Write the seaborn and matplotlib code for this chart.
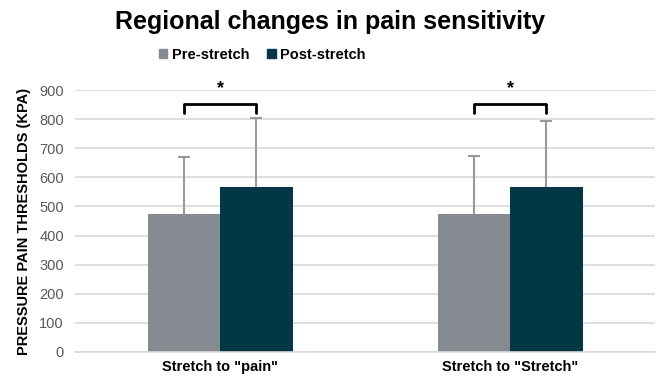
import matplotlib
matplotlib.use("Agg")
import matplotlib.pyplot as plt
import seaborn as sns
import pandas as pd
import numpy as np

categories = ['Stretch to "pain"', 'Stretch to "Stretch"']
series = ["Pre-stretch", "Post-stretch"]
pre_vals = [474, 474]
post_vals = [567, 568]
pre_err = [196, 201]
post_err = [237, 227]
colors = ["#858B90", "#023745"]

sns.set_theme(style="white")
plt.rcParams['font.family'] = ['Liberation Sans', 'DejaVu Sans']
plt.rcParams['text.color'] = 'black'

df = pd.DataFrame({
    "cat": categories * 2,
    "series": [series[0]] * 2 + [series[1]] * 2,
    "val": pre_vals + post_vals,
})

fig = plt.figure(figsize=(6.61, 3.88), dpi=100)
ax = fig.add_axes([0.1135, 0.0928, 0.8775, 0.6752])
sns.barplot(data=df, x="cat", y="val", hue="series", order=categories,
            hue_order=series, palette=colors, width=0.5, errorbar=None,
            saturation=1, ax=ax, zorder=2, linewidth=0, edgecolor="none",
            legend=False)

errs = {series[0]: pre_err, series[1]: post_err}
centers = {}
for container, s in zip(ax.containers, series):
    xs = [p.get_x() + p.get_width() / 2 for p in container.patches]
    ys = [p.get_height() for p in container.patches]
    centers[s] = xs
    tops = [y + e for y, e in zip(ys, errs[s])]
    ax.vlines(xs, ys, tops, color="#999999", lw=1.5, zorder=3)
    ax.plot(xs, tops, ls="none", marker="_", ms=8, mew=1.5, color="#999999", zorder=3)

for i in range(len(categories)):
    x0, x1 = centers[series[0]][i], centers[series[1]][i]
    ax.plot([x0, x0, x1, x1], [822, 852, 852, 822], color="black", lw=2,
            clip_on=False, zorder=4)
    ax.text((x0 + x1) / 2, 905, "*", ha="center", va="center", fontsize=13,
            fontweight="bold", clip_on=False)

ax.set_ylim(0, 900)
ax.set_xlim(-0.5, 1.5)
ax.set_yticks(range(0, 901, 100))
ax.yaxis.grid(True, color="#d9d9d9", lw=1.2, zorder=0)
ax.set_axisbelow(True)
for sp in ["top", "right", "left"]:
    ax.spines[sp].set_visible(False)
ax.spines["bottom"].set_color("#d9d9d9")
ax.spines["bottom"].set_linewidth(1.2)
ax.tick_params(axis="y", labelsize=10.5, labelcolor="#595959", length=0, pad=8)
ax.tick_params(axis="x", labelsize=10.5, labelcolor="black", length=0, pad=6)
for t in ax.get_xticklabels():
    t.set_fontweight("bold")
ax.set_xlabel("")
ax.set_ylabel("PRESSURE PAIN THRESHOLDS (KPA)", fontsize=10.5, fontweight="bold",
              color="black", labelpad=6)

handles = [plt.Rectangle((0, 0), 1, 1, color=c) for c in colors]
fig.legend(handles, series, loc="center", bbox_to_anchor=(262 / 661, 1 - 55 / 388),
           ncol=2, frameon=False, prop={"weight": "bold", "size": 10.5},
           handlelength=0.6, handleheight=0.6, handletextpad=0.3, columnspacing=1.2)

fig.text(0.5, 1 - 22 / 388, "Regional changes in pain sensitivity", ha="center",
         va="center", fontsize=18, fontweight="bold", color="black")

fig.savefig("out.png", dpi=100)
